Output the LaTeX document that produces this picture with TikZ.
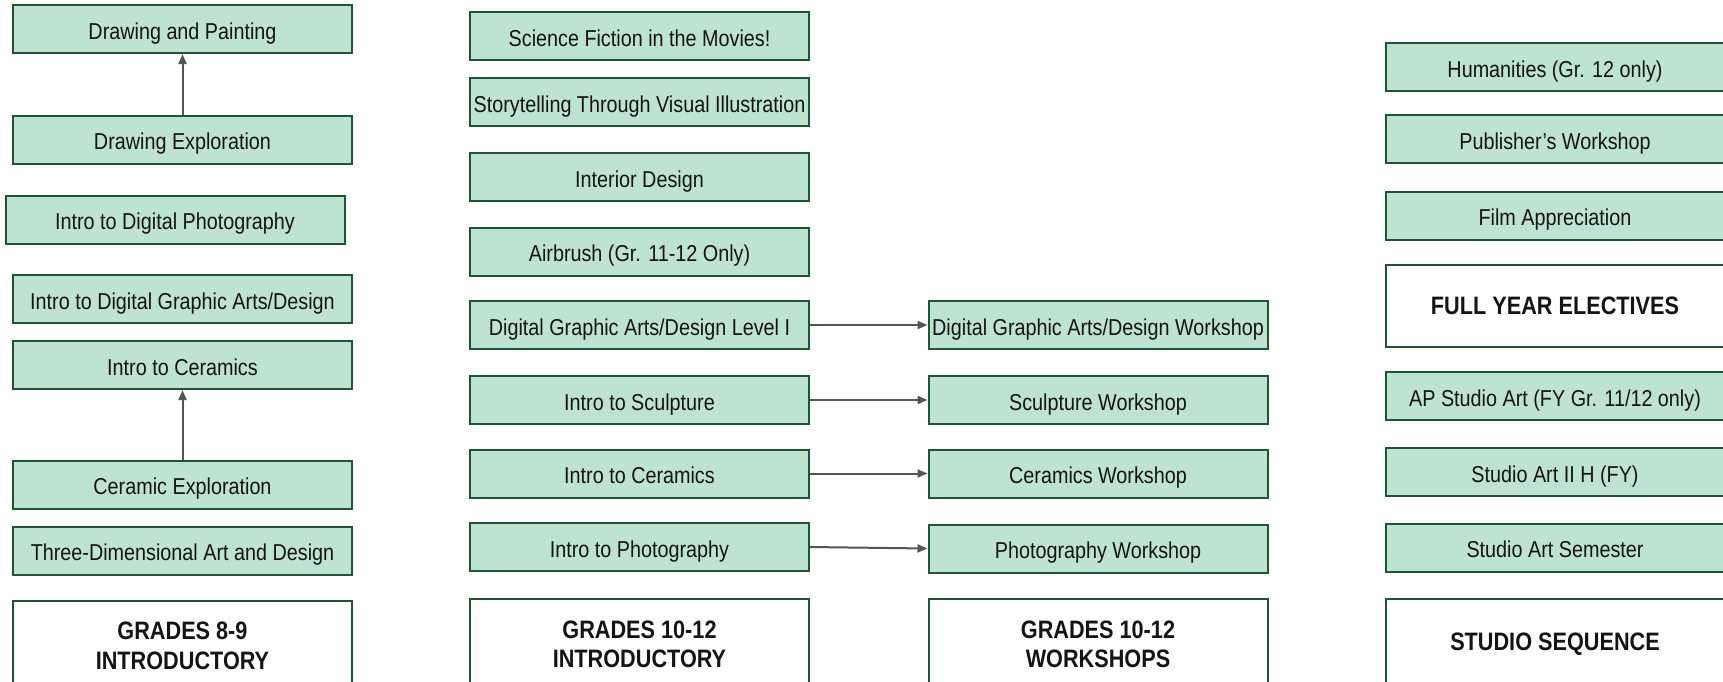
\documentclass[tikz,border=0pt]{standalone}
\usepackage{fontspec}
\setmainfont{Liberation Sans}[FakeStretch=0.86]
\usepackage{xcolor}
\usetikzlibrary{arrows.meta}

\definecolor{mintfill}{RGB}{190,227,211}
\definecolor{boxline}{RGB}{30,86,52}
\definecolor{arrowgray}{RGB}{85,85,85}
\definecolor{textdark}{RGB}{20,20,20}

\begin{document}
\begin{tikzpicture}[x=0.5pt,y=-0.5pt,
  course/.style={draw=boxline,fill=mintfill,line width=1pt,minimum width=169.5pt,minimum height=24pt,inner sep=0pt,text height=10pt,text depth=0pt,text=textdark,font=\fontsize{11.5}{14.5}\selectfont},
  header/.style={draw=boxline,fill=white,line width=1pt,minimum width=169.5pt,inner sep=0pt,align=center,text=textdark,font=\fontsize{12.6}{14.8}\selectfont\bfseries},
  link/.style={draw=arrowgray,line width=1pt,-{Triangle[length=5pt,width=4pt]}}]
\useasboundingbox (0,0) rectangle (1723,681);
\clip (0,0) rectangle (1723,681);

% Grades 8-9 column
\node[course] (drawpaint) at (182.5,29) {Drawing and Painting};
\node[course] (drawexpl) at (182.5,139.5) {Drawing Exploration};
\node[course] (digphoto) at (175,219.5) {Intro to Digital Photography};
\node[course] (diggraph) at (182.5,299) {Intro to Digital Graphic Arts/Design};
\node[course] (ceramA) at (182.5,365) {Intro to Ceramics};
\node[course] (ceramexpl) at (182.5,484.5) {Ceramic Exploration};
\node[course] (threedim) at (182.5,550.5) {Three-Dimensional Art and Design};
\node[header,minimum height=44.5pt] (headA) at (182.5,645.75) {GRADES 8-9\\INTRODUCTORY};

% Grades 10-12 introductory column
\node[course] (scifi) at (639.5,36) {Science Fiction in the Movies!};
\node[course] (story) at (639.5,102) {Storytelling Through Visual Illustration};
\node[course] (interior) at (639.5,177) {Interior Design};
\node[course] (airbrush) at (639.5,251.5) {Airbrush (Gr. 11-12 Only)};
\node[course] (dgalevel) at (639.5,325) {Digital Graphic Arts/Design Level I};
\node[course] (sculpt) at (639.5,400) {Intro to Sculpture};
\node[course] (ceramB) at (639.5,473.5) {Intro to Ceramics};
\node[course] (photo) at (639.5,547) {Intro to Photography};
\node[header,minimum height=45.5pt] (headB) at (639.5,644.5) {GRADES 10-12\\INTRODUCTORY};

% Grades 10-12 workshops column
\node[course] (dgawork) at (1098,325) {Digital Graphic Arts/Design Workshop};
\node[course] (sculptwork) at (1098,400) {Sculpture Workshop};
\node[course] (ceramwork) at (1098,473.5) {Ceramics Workshop};
\node[course] (photowork) at (1098,548.5) {Photography Workshop};
\node[header,minimum height=45.5pt] (headC) at (1098,644.5) {GRADES 10-12\\WORKSHOPS};

% Full year and studio column
\node[course] (human) at (1555,67) {Humanities (Gr. 12 only)};
\node[course] (publish) at (1555,139) {Publisher's Workshop};
\node[course] (film) at (1555,215.5) {Film Appreciation};
\node[header,minimum height=41pt] (headD) at (1555,306) {FULL YEAR ELECTIVES};
\node[course] (apstudio) at (1555,396) {AP Studio Art (FY Gr. 11/12 only)};
\node[course] (studiotwo) at (1555,472) {Studio Art II H (FY)};
\node[course] (studiosem) at (1555,547.5) {Studio Art Semester};
\node[header,minimum height=45.5pt] (headE) at (1555,644.5) {STUDIO SEQUENCE};

% Arrows
\draw[link] (drawexpl) -- (drawpaint);
\draw[link] (ceramexpl) -- (ceramA);
\draw[link] (dgalevel) -- (dgawork);
\draw[link] (sculpt) -- (sculptwork);
\draw[link] (ceramB) -- (ceramwork);
\draw[link] (photo.east) -- (photowork.west);

\end{tikzpicture}
\end{document}
